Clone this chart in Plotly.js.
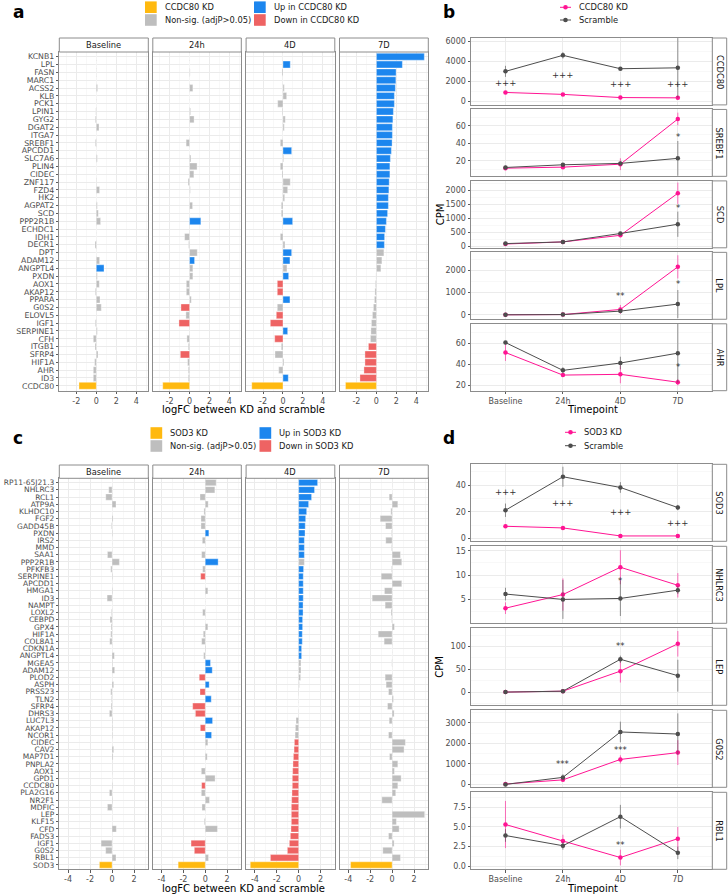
<!DOCTYPE html>
<html><head><meta charset="utf-8">
<script src="https://cdn.plot.ly/plotly-3.0.1.min.js"></script>
<style>html,body{margin:0;padding:0;background:#fff}#chart{width:728px;height:894px}</style>
</head><body><div id="chart"></div>
<script>
// ---------------- DATA ----------------
const timepoints = ['Baseline','24h','4D','7D'];

// Panel a: logFC between CCDC80 KD and scramble
const genesA = ['KCNB1','LPL','FASN','MARC1','ACSS2','KLB','PCK1','LPIN1','GYG2','DGAT2','ITGA7','SREBF1','APCDD1','SLC7A6','PLIN4','CIDEC','ZNF117','FZD4','HK2','AGPAT2','SCD','PPP2R1B','ECHDC1','IDH1','DECR1','DPT','ADAM12','ANGPTL4','PXDN','AOX1','AKAP12','PPARA','G0S2','ELOVL5','IGF1','SERPINE1','CFH','ITGB1','SFRP4','HIF1A','AHR','ID3','CCDC80'];
const kdGeneA = 'CCDC80';
const logfcA_Baseline = [0,0,0.02,0,0.13,0,0,-0.05,-0.1,0.27,0,-0.1,0,0.1,0,0,-0.03,0.33,0,0.1,0.2,0.43,0,0,-0.13,0,0.33,0.77,0.1,0.3,-0.1,0.37,0.5,0.03,-0.1,0.1,-0.3,-0.13,0.17,-0.17,-0.3,-0.3,-1.73];
const logfcA_24h = [0,0,0.05,0,0.33,0,0,0.1,0.45,0.03,0,-0.35,0,0.13,0.75,0.43,-0.15,0.07,0.03,0.3,0.02,1.13,0.03,-0.5,-0.1,0.77,0.5,0.33,0.33,-0.33,-0.33,0.17,-0.87,-0.37,-1.07,0.03,-0.27,-0.13,-0.93,-0.2,-0.13,-0.13,-2.7];
const logfcA_4D = [0,0.73,-0.1,0,0.13,0.37,-0.53,-0.07,0.23,0.13,0,-0.27,0.87,0.07,-0.27,-0.1,0.73,0.47,0.17,-0.17,-0.17,0.97,0,-0.27,0.2,0.87,0.7,0.4,0.57,-0.57,-0.57,0.7,-0.57,-0.67,-1.27,0.47,-0.83,-0.17,-0.8,0.1,-0.43,0.53,-3.13];
const logfcA_7D = [4.8,2.6,1.97,1.95,1.9,1.8,1.8,1.7,1.65,1.6,1.6,1.57,1.5,1.4,1.35,1.35,1.28,1.25,1.2,1.2,1.12,1.0,0.9,0.82,0.8,0.75,0.55,0.45,-0.05,-0.1,-0.15,-0.2,-0.3,-0.4,-0.5,-0.55,-0.6,-0.8,-1.15,-1.15,-1.25,-1.65,-3.1];
const upA_Baseline = ['ANGPTL4'];
const downA_Baseline = [];
const upA_24h = ['PPP2R1B','ADAM12'];
const downA_24h = ['G0S2','IGF1','SFRP4'];
const upA_4D = ['LPL','APCDD1','PPP2R1B','DPT','ADAM12','PXDN','PPARA','SERPINE1','ID3'];
const downA_4D = ['AOX1','AKAP12','ELOVL5','IGF1','CFH'];
const upA_7D = ['KCNB1','LPL','FASN','MARC1','ACSS2','KLB','PCK1','LPIN1','GYG2','DGAT2','ITGA7','SREBF1','APCDD1','SLC7A6','PLIN4','CIDEC','ZNF117','FZD4','HK2','AGPAT2','SCD','PPP2R1B','ECHDC1','IDH1','DECR1'];
const downA_7D = ['ITGB1','SFRP4','HIF1A','AHR','ID3'];
const legendA = ['CCDC80 KD','Non-sig. (adjP>0.05)','Up in CCDC80 KD','Down in CCDC80 KD'];

// Panel c: logFC between SOD3 KD and scramble
const genesC = ['RP11-65J21.3','NHLRC3','RCL1','ATP9A','KLHDC10','FGF2','GADD45B','PXDN','IRS2','MMD','SAA1','PPP2R1B','PFKFB3','SERPINE1','APCDD1','HMGA1','ID3','NAMPT','LOXL2','CEBPD','GPX4','HIF1A','COL8A1','CDKN1A','ANGPTL4','MGEA5','ADAM12','PLOD2','ASPH','PRSS23','TLN2','SFRP4','DHRS3','LUC7L3','AKAP12','NCOR1','CIDEC','CAV2','MAP7D1','PNPLA2','AOX1','GPD1','CCDC80','PLA2G16','NR2F1','MDFIC','LEP','KLF15','CFD','FADS3','IGF1','G0S2','RBL1','SOD3'];
const kdGeneC = 'SOD3';
const logfcC_Baseline = [0,-0.3,-0.57,0.36,0,0.09,-0.06,0.06,0,0,-0.42,0.67,-0.12,0.06,0,0.06,-0.45,0,-0.06,-0.18,-0.09,-0.12,-0.21,0,0.21,0.06,0.24,0,0.15,-0.12,-0.06,-0.09,-0.24,0.06,0.06,0.06,0,0.15,0.09,0.03,0.03,0,0.06,-0.24,0.06,-0.42,0,0,0.39,0,-1.0,-0.58,0.36,-1.15];
const logfcC_24h = [1.0,0.88,-0.48,0.27,-0.12,-0.39,-0.39,0.33,-0.27,0,-0.33,1.18,-0.24,-0.42,0,0.24,0,0,-0.24,0,0.24,-0.18,-0.33,0.06,-0.15,0.48,0.64,-0.55,0.36,-0.48,0.55,-1.15,-0.9,0.67,-0.45,0.58,0.24,0,0.18,0,-0.36,0.9,-0.33,-0.36,0.39,-0.3,0,-0.09,1.12,0,-1.3,-1.0,0.3,-2.48];
const logfcC_4D = [1.73,1.45,1.18,0.91,0.73,0.64,0.6,0.58,0.52,0.52,0.52,0.52,0.45,0.42,0.42,0.42,0.42,0.4,0.4,0.36,0.36,0.33,0.33,0.27,0.27,0.21,0.21,0.18,0.06,0.03,0.01,0,-0.03,-0.24,-0.3,-0.33,-0.39,-0.42,-0.48,-0.52,-0.55,-0.58,-0.58,-0.61,-0.64,-0.67,-0.67,-0.67,-0.7,-0.76,-0.85,-1.03,-2.58,-4.42];
const logfcC_7D = [0.02,0,-0.27,0.52,-0.12,-1.09,-0.6,-0.06,-0.58,-0.06,0.76,0.88,-0.06,-1.0,0.88,-0.7,-1.82,-0.64,-0.1,-0.05,0.21,-1.27,-0.73,0,0,-0.03,0,-0.64,-0.55,-0.33,0.12,-0.42,0.18,-0.27,0,-0.33,1.21,1.09,-0.24,0.52,0.21,0.82,0.52,0.33,-0.94,0,2.97,0.39,0.64,-0.33,0.18,-0.85,0.76,-3.79];
const upC_Baseline = [];
const downC_Baseline = [];
const upC_24h = ['PXDN','PPP2R1B','MGEA5','ADAM12','ASPH','TLN2','LUC7L3','NCOR1'];
const downC_24h = ['SERPINE1','PLOD2','PRSS23','SFRP4','DHRS3','AKAP12','CCDC80','IGF1','G0S2'];
const upC_4D = ['RP11-65J21.3','NHLRC3','RCL1','ATP9A','KLHDC10','FGF2','GADD45B','PXDN','IRS2','MMD','SAA1','PFKFB3','SERPINE1','APCDD1','HMGA1','ID3','NAMPT','LOXL2','CEBPD','GPX4','HIF1A','COL8A1','CDKN1A','ANGPTL4'];
const downC_4D = ['CIDEC','CAV2','MAP7D1','PNPLA2','AOX1','GPD1','CCDC80','PLA2G16','NR2F1','MDFIC','LEP','KLF15','CFD','FADS3','IGF1','G0S2','RBL1'];
const upC_7D = [];
const downC_7D = [];
const legendC = ['SOD3 KD','Non-sig. (adjP>0.05)','Up in SOD3 KD','Down in SOD3 KD'];

// Panel b: CPM, CCDC80 KD vs Scramble
const seriesB = ['CCDC80 KD','Scramble'];
const genesB = ['CCDC80','SREBF1','SCD','LPL','AHR'];
const b_CCDC80_kd = [915,724,410,380],   b_CCDC80_kdErr = [130,110,80,70];
const b_CCDC80_scr = [3010,4600,3270,3360], b_CCDC80_scrErr = [550,320,130,2950];
const b_SREBF1_kd = [11.4,12.6,16,68],   b_SREBF1_kdErr = [1,1,6.8,7.3];
const b_SREBF1_scr = [12.2,15.3,16.9,22.7], b_SREBF1_scrErr = [2,2,2,20];
const b_SCD_kd = [80,155,390,1890],      b_SCD_kdErr = [20,20,60,380];
const b_SCD_scr = [95,155,455,785],      b_SCD_scrErr = [20,20,50,450];
const b_LPL_kd = [0,10,240,2150],        b_LPL_kdErr = [5,5,200,520];
const b_LPL_scr = [0,10,165,480],        b_LPL_scrErr = [5,5,50,630];
const b_AHR_kd = [51.2,29.7,30.4,22.9],  b_AHR_kdErr = [8,1.5,8.5,3];
const b_AHR_scr = [60.7,34.2,41.2,50.6], b_AHR_scrErr = [1.5,3,6,28];
const b_marks = [['CCDC80','Baseline',1900,'+++'],['CCDC80','24h',2630,'+++'],['CCDC80','4D',1770,'+++'],['CCDC80','7D',1770,'+++'],
  ['SREBF1','7D',47.5,'*'],['SCD','7D',1380,'*'],['LPL','4D',845,'**'],['LPL','7D',1370,'*'],['AHR','7D',37.7,'*']];
const b_ticks = {CCDC80:[0,2000,4000,6000], SREBF1:[20,40,60], SCD:[0,500,1000,1500,2000], LPL:[0,1000,2000], AHR:[20,40,60]};

// Panel d: CPM, SOD3 KD vs Scramble
const seriesD = ['SOD3 KD','Scramble'];
const genesD = ['SOD3','NHLRC3','LEP','G0S2','RBL1'];
const d_SOD3_kd = [9.2,8,2,2],           d_SOD3_kdErr = [1,1,0.5,0.5];
const d_SOD3_scr = [21.2,46.2,38.2,23.2], d_SOD3_scrErr = [5,7.5,4,2];
const d_NHLRC3_kd = [3.2,6.0,11.6,7.9],  d_NHLRC3_kdErr = [1.2,3.3,3.5,2.5];
const d_NHLRC3_scr = [6.1,5.0,5.2,6.9],  d_NHLRC3_scrErr = [1.3,4,3.6,0.8];
const d_LEP_kd = [0,2,46,106],           d_LEP_kdErr = [1,1,25,28];
const d_LEP_scr = [0,2,72,36],           d_LEP_scrErr = [1,1,8,35];
const d_G0S2_kd = [30,230,1220,1550],    d_G0S2_kdErr = [20,80,200,600];
const d_G0S2_scr = [10,350,2550,2450],   d_G0S2_scrErr = [20,150,500,1000];
const d_RBL1_kd = [5.3,3.2,1.1,3.5],     d_RBL1_kdErr = [3,0.8,1.0,1.5];
const d_RBL1_scr = [3.9,2.6,6.3,1.7],    d_RBL1_scrErr = [0.8,0.5,1.5,0.8];
const d_marks = [['SOD3','Baseline',34.6,'+++'],['SOD3','24h',26.8,'+++'],['SOD3','4D',20,'+++'],['SOD3','7D',12,'+++'],
  ['NHLRC3','4D',8.7,'*'],['LEP','4D',102,'**'],['G0S2','24h',1000,'***'],['G0S2','4D',1700,'***'],['RBL1','4D',2.7,'**']];
const d_ticks = {SOD3:[0,20,40], NHLRC3:[5,10,15], LEP:[0,50,100], G0S2:[0,1000,2000,3000], RBL1:[0,2.5,5,7.5]};

// ---------------- LAYOUT HELPERS ----------------
const W = 728, H = 894;
const FONT = 'DejaVu Sans, Liberation Sans, sans-serif';
const COL = {K:'#FFB90F', U:'#1C86EE', D:'#EE6363', N:'#BEBEBE'};
const KD_COL = '#FF1493', SCR_COL = '#4D4D4D';
const BORDER = '#8C8C8C', GRID = '#EBEBEB', MINOR = '#F4F4F4', TXT = '#4D4D4D';
const px = v => v / W, py = v => 1 - v / H;
const data = [];
const layout = {width:W, height:H, margin:{l:0,r:0,t:0,b:0}, paper_bgcolor:'#fff', plot_bgcolor:'#fff',
  showlegend:false, bargap:0.12, font:{family:FONT, size:8, color:TXT}, shapes:[], annotations:[], hovermode:false};
let axN = 0;
const axName = (n,p) => n === 1 ? p + 'axis' : p + 'axis' + n;
const ref = (n,p) => n === 1 ? p : p + n;

function addText(x, y, text, opt) {
  layout.annotations.push(Object.assign({xref:'paper', yref:'paper', x:px(x), y:py(y), text:text, showarrow:false,
    xanchor:'center', yanchor:'middle', font:{size:8.3, color:'#1A1A1A', family:FONT}}, opt || {}));
}
function addStrip(x0, x1, y0, y1, text, vertical) {
  layout.shapes.push({type:'rect', xref:'paper', yref:'paper', x0:px(x0), x1:px(x1), y0:py(y1), y1:py(y0),
    line:{color:BORDER, width:1}, fillcolor:'#fff', layer:'above'});
  addText((x0+x1)/2, (y0+y1)/2, text, {textangle: vertical ? 90 : 0});
}

const facetX = [[59.3,148.3],[152.8,241.3],[246.1,334.8],[339.5,428.3]];

function barPanel(genes, valsList, upsList, downsList, kdGene, plotTop, plotBot, stripTop, xr, xt, xm, labelSize) {
  timepoints.forEach((tp, i) => {
    const n = ++axN;
    const colors = genes.map(g => g === kdGene ? COL.K : (upsList[i].indexOf(g) >= 0 ? COL.U : (downsList[i].indexOf(g) >= 0 ? COL.D : COL.N)));
    data.push({type:'bar', orientation:'h', x:valsList[i], y:genes, xaxis:ref(n,'x'), yaxis:ref(n,'y'),
      marker:{color:colors, line:{color:'rgba(255,255,255,0.7)', width:0.5}}});
    layout[axName(n,'x')] = {domain:[px(facetX[i][0]), px(facetX[i][1])], anchor:ref(n,'y'), range:xr,
      tickmode:'array', tickvals:xt, ticktext:xt.map(v => String(v)),
      showgrid:true, gridcolor:GRID, gridwidth:1,
      minor:{tickvals:xm, showgrid:true, gridcolor:MINOR, gridwidth:0.6, ticks:''},
      zeroline:false, showline:true, mirror:true, linecolor:BORDER, linewidth:1,
      ticks:'outside', ticklen:2.5, tickwidth:0.8, tickcolor:'#333', tickfont:{size:8, color:TXT}, fixedrange:true};
    layout[axName(n,'y')] = {domain:[py(plotBot), py(plotTop)], anchor:ref(n,'x'), type:'category',
      categoryorder:'array', categoryarray:genes, range:[genes.length - 0.4, -0.6],
      tickmode:'array', tickvals:genes, ticktext:genes,
      showgrid:true, gridcolor:GRID, gridwidth:1, zeroline:false,
      showline:true, mirror:true, linecolor:BORDER, linewidth:1,
      showticklabels:i === 0, ticks:i === 0 ? 'outside' : '', ticklen:2.5, tickwidth:0.8, tickcolor:'#333',
      tickfont:{size:labelSize, color:TXT}, fixedrange:true};
    addStrip(facetX[i][0], facetX[i][1], stripTop, plotTop, tp, false);
  });
}

function linePanel(gene, kd, kdErr, scr, scrErr, top, bot, yr, yt, ytext, ym, marks, bottom) {
  const n = ++axN;
  const xa = ref(n,'x'), ya = ref(n,'y');
  [[kd, kdErr, KD_COL, 'rgba(255,20,147,0.6)'], [scr, scrErr, SCR_COL, 'rgba(77,77,77,0.6)']].forEach(s => {
    data.push({type:'scatter', mode:'lines+markers', x:timepoints, y:s[0], xaxis:xa, yaxis:ya,
      line:{color:s[2], width:1}, marker:{color:s[2], size:4.5},
      error_y:{type:'data', array:s[1], visible:true, width:0, thickness:1, color:s[3]}});
  });
  layout[axName(n,'x')] = {domain:[px(471), px(712.3)], anchor:ya, type:'category', categoryorder:'array',
    categoryarray:timepoints, range:[-0.6, 3.6], showgrid:true, gridcolor:GRID, gridwidth:1, zeroline:false,
    showline:true, mirror:true, linecolor:BORDER, linewidth:1,
    showticklabels:bottom, ticks:bottom ? 'outside' : '', ticklen:2.5, tickwidth:0.8, tickcolor:'#333',
    tickfont:{size:8, color:TXT}, fixedrange:true};
  layout[axName(n,'y')] = {domain:[py(bot), py(top)], anchor:xa, range:yr, tickmode:'array', tickvals:yt, ticktext:ytext,
    showgrid:true, gridcolor:GRID, gridwidth:1,
    minor:{tickvals:ym, showgrid:true, gridcolor:MINOR, gridwidth:0.6, ticks:''},
    zeroline:false, showline:true, mirror:true, linecolor:BORDER, linewidth:1,
    ticks:'outside', ticklen:2.5, tickwidth:0.8, tickcolor:'#333', tickfont:{size:8, color:TXT}, fixedrange:true};
  marks.filter(m => m[0] === gene).forEach(m => {
    layout.annotations.push({xref:xa, yref:ya, x:timepoints.indexOf(m[1]), y:m[2], text:m[3], showarrow:false,
      xanchor:'center', yanchor:'middle', font:{size:8.5, color:'#333', family:FONT}});
  });
  addStrip(712.3, 726.7, top, bot, gene, true);
}

function minorOf(t) { const s = t[1] - t[0]; const out = [t[0] - s/2]; t.forEach(v => out.push(v + s/2)); return out; }

// ---------------- BUILD ----------------
barPanel(genesA, [logfcA_Baseline, logfcA_24h, logfcA_4D, logfcA_7D],
  [upA_Baseline, upA_24h, upA_4D, upA_7D], [downA_Baseline, downA_24h, downA_4D, downA_7D],
  kdGeneA, 52, 390.5, 38, [-3.7, 5.2], [-2,0,2,4], [-3,-1,1,3,5], 7.8);
barPanel(genesC, [logfcC_Baseline, logfcC_24h, logfcC_4D, logfcC_7D],
  [upC_Baseline, upC_24h, upC_4D, upC_7D], [downC_Baseline, downC_24h, downC_4D, downC_7D],
  kdGeneC, 478.3, 869.3, 465, [-4.8, 3.3], [-4,-2,0,2], [-5,-3,-1,1,3], 7.5);

const bRanges = {CCDC80:[-320,6320], SREBF1:[2,79], SCD:[-55,2330], LPL:[-200,2800], AHR:[14.8,78.6]};
const bSeries = {CCDC80:[b_CCDC80_kd,b_CCDC80_kdErr,b_CCDC80_scr,b_CCDC80_scrErr], SREBF1:[b_SREBF1_kd,b_SREBF1_kdErr,b_SREBF1_scr,b_SREBF1_scrErr],
  SCD:[b_SCD_kd,b_SCD_kdErr,b_SCD_scr,b_SCD_scrErr], LPL:[b_LPL_kd,b_LPL_kdErr,b_LPL_scr,b_LPL_scrErr], AHR:[b_AHR_kd,b_AHR_kdErr,b_AHR_scr,b_AHR_scrErr]};
genesB.forEach((g, i) => {
  const top = 38 + i * 71.45, bot = top + 66.9;
  const s = bSeries[g];
  linePanel(g, s[0], s[1], s[2], s[3], top, bot, bRanges[g], b_ticks[g], b_ticks[g].map(String), minorOf(b_ticks[g]), b_marks, i === genesB.length - 1);
});
const dRanges = {SOD3:[-2,55.5], NHLRC3:[0.1,15.9], LEP:[-29,140], G0S2:[-130,3600], RBL1:[-0.4,9.4]};
const dSeries = {SOD3:[d_SOD3_kd,d_SOD3_kdErr,d_SOD3_scr,d_SOD3_scrErr], NHLRC3:[d_NHLRC3_kd,d_NHLRC3_kdErr,d_NHLRC3_scr,d_NHLRC3_scrErr],
  LEP:[d_LEP_kd,d_LEP_kdErr,d_LEP_scr,d_LEP_scrErr], G0S2:[d_G0S2_kd,d_G0S2_kdErr,d_G0S2_scr,d_G0S2_scrErr], RBL1:[d_RBL1_kd,d_RBL1_kdErr,d_RBL1_scr,d_RBL1_scrErr]};
genesD.forEach((g, i) => {
  const top = 464.3 + i * 82, bot = top + 77;
  const s = dSeries[g];
  const txt = g === 'RBL1' ? d_ticks[g].map(v => v.toFixed(1)) : d_ticks[g].map(String);
  linePanel(g, s[0], s[1], s[2], s[3], top, bot, dRanges[g], d_ticks[g], txt, minorOf(d_ticks[g]), d_marks, i === genesD.length - 1);
});

function barLegend(labels, colX, rowY) {
  const cols = [COL.K, COL.N, COL.U, COL.D];
  labels.forEach((lab, k) => {
    const cx = colX[Math.floor(k / 2)], cy = rowY[k % 2];
    layout.shapes.push({type:'rect', xref:'paper', yref:'paper', x0:px(cx), x1:px(cx + 11.7), y0:py(cy + 5.8), y1:py(cy - 5.8),
      line:{width:0}, fillcolor:cols[k]});
    addText(cx + 17.5, cy, lab, {xanchor:'left', font:{size:8.3, color:'#1A1A1A', family:FONT}});
  });
}
barLegend(legendA, [145, 254], [7.2, 20]);
barLegend(legendC, [150.5, 259.5], [433, 446]);

function lineLegend(labels, x0, rowY) {
  [KD_COL, SCR_COL].forEach((c, k) => {
    const y = rowY[k];
    layout.shapes.push({type:'line', xref:'paper', yref:'paper', x0:px(x0), x1:px(x0 + 11), y0:py(y), y1:py(y), line:{color:c, width:1}});
    layout.shapes.push({type:'circle', xref:'paper', yref:'paper', x0:px(x0 + 5.5 - 2.3), x1:px(x0 + 5.5 + 2.3), y0:py(y + 2.3), y1:py(y - 2.3),
      line:{width:0}, fillcolor:c});
    addText(x0 + 16.5, y, labels[k], {xanchor:'left', font:{size:8.3, color:'#1A1A1A', family:FONT}});
  });
}
lineLegend(seriesB, 560, [7.3, 20]);
lineLegend(seriesD, 565, [432.3, 445.7]);

const titleFont = {size:10, color:'#000', family:FONT};
addText(244, 409.8, 'logFC between KD and scramble', {font:titleFont});
addText(244, 888.6, 'logFC between KD and scramble', {font:titleFont});
addText(592, 409.8, 'Timepoint', {font:titleFont});
addText(592, 888.6, 'Timepoint', {font:titleFont});
addText(440, 214.3, 'CPM', {font:titleFont, textangle:-90});
addText(440, 666.8, 'CPM', {font:titleFont, textangle:-90});

const letterFont = {size:17, color:'#000', family:FONT};
addText(11, 12, '<b>a</b>', {xanchor:'left', font:letterFont});
addText(441, 12, '<b>b</b>', {xanchor:'left', font:letterFont});
addText(11, 438, '<b>c</b>', {xanchor:'left', font:letterFont});
addText(441, 438, '<b>d</b>', {xanchor:'left', font:letterFont});

Plotly.newPlot('chart', data, layout, {staticPlot:true, displayModeBar:false});
</script>
</body></html>
